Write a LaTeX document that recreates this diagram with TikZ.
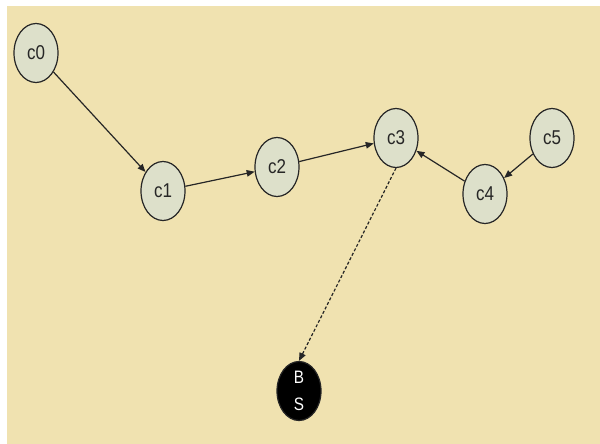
\documentclass[tikz,border=0pt]{standalone}
\usepackage{fontspec}
\setmainfont{Liberation Sans}
\newfontfamily\narrowsans[FakeStretch=0.85]{Liberation Sans}
\usetikzlibrary{arrows.meta,shapes.geometric}
\definecolor{paper}{HTML}{F0E2B0}
\definecolor{nodefill}{HTML}{DDE0CA}
\definecolor{ink}{HTML}{262626}
\begin{document}
\begin{tikzpicture}[x=1pt,y=-1pt,
  cnode/.style={ellipse,draw=ink,line width=1.2pt,fill=nodefill,
    minimum width=44pt,minimum height=59pt,inner sep=0pt,
    font=\narrowsans\fontsize{20}{20}\selectfont,text=ink},
  basenode/.style={ellipse,draw=ink,line width=1.2pt,fill=black,
    minimum width=44pt,minimum height=59pt,inner sep=0pt,
    font=\narrowsans\fontsize{18}{27}\selectfont,text=white,align=center},
  link/.style={draw=ink,line width=1.2pt,-{Triangle[length=8pt,width=6.5pt]}},
  dlink/.style={link,dash pattern=on 3pt off 2pt}]
  \useasboundingbox (0,0) rectangle (600,444);
  \fill[white] (0,0) rectangle (600,444);
  \fill[paper] (7,6) rectangle (600,444);

  \node[cnode] (c0) at (36,53) {c0};
  \node[cnode] (c1) at (163,191) {c1};
  \node[cnode] (c2) at (277,167) {c2};
  \node[cnode] (c3) at (396,138) {c3};
  \node[cnode] (c4) at (485,194) {c4};
  \node[cnode] (c5) at (552,138) {c5};
  \node[basenode] (bs) at (299,391) {B\\S};

  \draw[link] (c0) -- (c1);
  \draw[link] (c1) -- (c2);
  \draw[link] (c2) -- (c3);
  \draw[link] (c4) -- (c3);
  \draw[link] (c5) -- (c4);
  \draw[dlink] (c3.south) -- (bs.north);
\end{tikzpicture}
\end{document}
